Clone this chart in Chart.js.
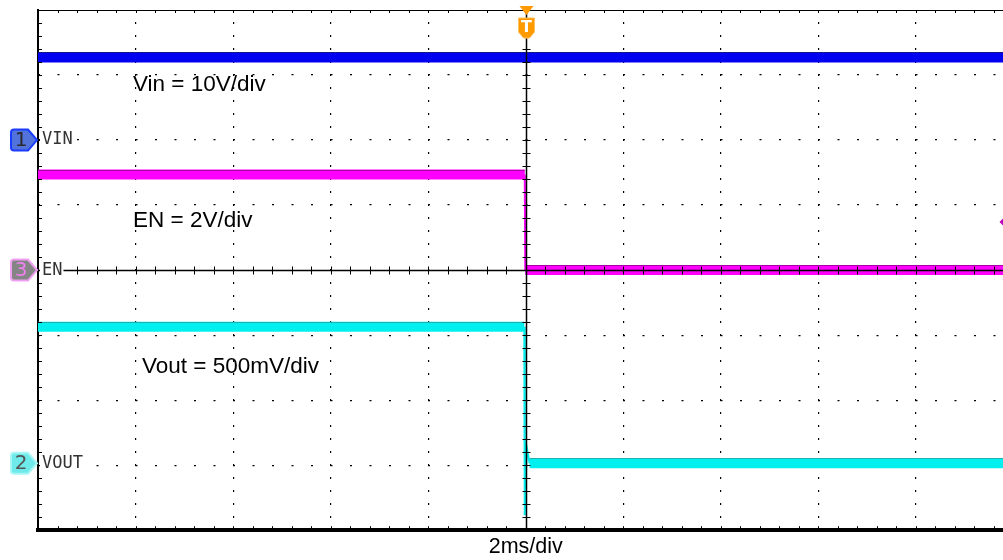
<!DOCTYPE html>
<html>
<head>
<meta charset="utf-8">
<script src="https://cdn.jsdelivr.net/npm/chart.js@4"></script>
<style>
  html, body { margin: 0; padding: 0; background: #fff; overflow: hidden; }
  #wrap { width: 1016px; height: 560px; }
</style>
</head>
<body>
<div id="wrap"><canvas id="scope" width="1016" height="560"></canvas></div>
<script>
// Scope screen: 2 ms/div over 10 divisions, 8 vertical divisions.
const timeRangeMs = [-10, 10];
const divRange    = [-4, 4];

// Channel settings (order: VIN, EN, VOUT)
const channelNames = ['VIN', 'EN', 'VOUT'];
const channelNums  = ['1', '3', '2'];
const voltsPerDiv  = [10, 2, 0.5];
const refDiv       = [2, 0, -2.97];

// CH1 - VIN
const vinTime  = [-10, 10];
const vinVolts = [12.7, 12.7];
// CH3 - EN
const enTime  = [-10, -0.02, -0.01, 10];
const enVolts = [2.94, 2.94, 0, 0];
const enTrigLevel = 1.48;
// CH2 - VOUT
const voutTime  = [-10, -0.03, -0.02, 0.02, 0.08, 10];
const voutVolts = [1.05, 1.05, -0.4, 0.12, 0, 0];

const annotations = ['Vin = 10V/div', 'EN = 2V/div', 'Vout = 500mV/div'];

const COLORS = ['#0000f0', '#ff00ff', '#00f0f0'];
const EDGE_COLORS = ['#14148c', '#a800a8', '#20b0b0'];

Chart.defaults.font.family = '"Liberation Sans", Arial, sans-serif';

function toDiv(times, volts, ch) {
    return times.map((t, i) => ({ x: t, y: refDiv[ch] + volts[i] / voltsPerDiv[ch] }));
}

function traceDataset(data, color) {
    return {
        data,
        borderColor: color,
        borderWidth: 10,
        pointRadius: 0,
        tension: 0,
        fill: false,
        // thick noise band on flat parts, thin line on the edges
        segment: { borderWidth: c => Math.abs(c.p1.x - c.p0.x) > 20 ? 10 : 2 },
    };
}

const hideCenter = (edge) => c =>
    (c.tick.value === 0 || Math.abs(c.tick.value) === edge) ? 'rgba(0,0,0,0)' : '#000';

function line(ctx, x1, y1, x2, y2) {
    ctx.beginPath(); ctx.moveTo(x1, y1); ctx.lineTo(x2, y2); ctx.stroke();
}

function drawMarker(ctx, y, num, fill, stroke, textColor) {
    ctx.save();
    ctx.beginPath();
    ctx.moveTo(14, y - 10.5); ctx.lineTo(28, y - 10.5); ctx.lineTo(37, y);
    ctx.lineTo(28, y + 10.5); ctx.lineTo(14, y + 10.5);
    ctx.quadraticCurveTo(11, y + 10.5, 11, y + 7.5);
    ctx.lineTo(11, y - 7.5);
    ctx.quadraticCurveTo(11, y - 10.5, 14, y - 10.5);
    ctx.closePath();
    ctx.fillStyle = fill; ctx.fill();
    ctx.lineWidth = 2; ctx.strokeStyle = stroke; ctx.stroke();
    ctx.fillStyle = textColor;
    ctx.font = '20px "DejaVu Sans"';
    ctx.textAlign = 'center'; ctx.textBaseline = 'middle';
    ctx.fillText(num, 21, y + 1);
    ctx.restore();
}

// ── graticule centre lines, ticks, channel markers and labels ──────────────
const scopeOverlay = {
    id: 'scopeOverlay',
    afterDatasetsDraw(chart) {
        const { ctx, chartArea: a, scales: { x, y } } = chart;
        const minorX = (x.getPixelForValue(2) - x.getPixelForValue(0)) / 5;
        const minorY = (y.getPixelForValue(0) - y.getPixelForValue(1)) / 5;
        const cx = Math.round(x.getPixelForValue(0)) + 0.5;
        const cy = Math.round(y.getPixelForValue(0)) + 0.5;

        ctx.save();
        // darker upper edge of each noise band
        chart.data.datasets.forEach((ds, i) => {
            const pts = chart.getDatasetMeta(i).data;
            ctx.strokeStyle = EDGE_COLORS[i];
            ctx.lineWidth = 1;
            for (let k = 0; k < pts.length - 1; k++) {
                if (Math.abs(pts[k + 1].x - pts[k].x) > 20) {
                    const py = Math.round(pts[k].y - 5) + 0.5;
                    line(ctx, Math.max(pts[k].x, a.left), py, Math.min(pts[k + 1].x, a.right), py);
                }
            }
        });

        ctx.strokeStyle = '#000';
        ctx.lineWidth = 1;
        line(ctx, a.left, Math.round(a.top) + 0.5, a.right, Math.round(a.top) + 0.5);
        ctx.lineWidth = 1.5;
        line(ctx, cx, a.top, cx, a.bottom);
        line(ctx, a.left, cy, a.right, cy);

        ctx.lineWidth = 1;
        for (let px = a.left + minorX; px < a.right; px += minorX) {
            const p = Math.round(px) + 0.5;
            line(ctx, p, a.top, p, a.top + 3);
            line(ctx, p, a.bottom - 4, p, a.bottom);
            line(ctx, p, cy - 4, p, cy + 4);
        }
        for (let py = a.top + minorY; py < a.bottom; py += minorY) {
            const p = Math.round(py) + 0.5;
            line(ctx, a.left, p, a.left + 4, p);
            line(ctx, cx - 4, p, cx + 4, p);
        }

        // channel labels inside the graticule
        ctx.font = '17px "DejaVu Sans Mono"';
        ctx.textBaseline = 'middle';
        channelNames.forEach((name, ch) => {
            const py = y.getPixelForValue(refDiv[ch]);
            const w = ctx.measureText(name).width;
            ctx.fillStyle = '#fff';
            ctx.fillRect(a.left + 2, py - 10, w + 3, 20);
            ctx.fillStyle = '#333';
            ctx.fillText(name, a.left + 4, py);
        });

        // channel reference markers left of the screen
        const marker = [
            ['#5272dc', '#1a3cff', '#2a2a2a'],
            ['#858585', '#f0a0f0', '#f080f0'],
            ['#6eeaea', '#a8f6f6', '#555'],
        ];
        channelNums.forEach((num, ch) => {
            const m = marker[ch];
            drawMarker(ctx, y.getPixelForValue(refDiv[ch]), num, m[0], m[1], m[2]);
        });

        // trigger position marker
        ctx.fillStyle = '#ff9a00';
        ctx.strokeStyle = '#ffc060';
        ctx.lineWidth = 1;
        ctx.beginPath();
        ctx.moveTo(cx - 7, 6); ctx.lineTo(cx + 7, 6); ctx.lineTo(cx, 15); ctx.closePath();
        ctx.fill();
        ctx.beginPath();
        ctx.moveTo(cx - 8, 18); ctx.lineTo(cx + 8, 18); ctx.lineTo(cx + 8, 32);
        ctx.lineTo(cx + 3, 38); ctx.lineTo(cx - 3, 38); ctx.lineTo(cx - 8, 32);
        ctx.closePath();
        ctx.fill(); ctx.stroke();
        ctx.fillStyle = '#fff';
        ctx.font = 'bold 16px "DejaVu Sans"';
        ctx.textAlign = 'center';
        ctx.fillText('T', cx, 28);

        // EN trigger level marker at the right edge
        const ty = y.getPixelForValue(refDiv[1] + enTrigLevel / voltsPerDiv[1]);
        const tx = a.right - 8;
        ctx.fillStyle = '#c000c0';
        ctx.beginPath();
        ctx.moveTo(tx - 6, ty); ctx.lineTo(tx, ty - 6); ctx.lineTo(tx + 6, ty); ctx.lineTo(tx, ty + 6);
        ctx.closePath(); ctx.fill();

        // scale annotations
        ctx.fillStyle = '#000';
        ctx.font = '22.5px "Liberation Sans", Arial, sans-serif';
        ctx.textAlign = 'left';
        ctx.fillText(annotations[0], 133, 85);
        ctx.fillText(annotations[1], 133, 221);
        ctx.fillText(annotations[2], 142, 367);
        ctx.restore();
    },
};

new Chart(document.getElementById('scope'), {
    type: 'line',
    data: {
        datasets: [
            traceDataset(toDiv(vinTime, vinVolts, 0), COLORS[0]),
            traceDataset(toDiv(enTime, enVolts, 1), COLORS[1]),
            traceDataset(toDiv(voutTime, voutVolts, 2), COLORS[2]),
        ],
    },
    options: {
        responsive: false,
        animation: false,
        events: [],
        layout: { padding: { left: 38, top: 10, right: 2.5, bottom: 0 } },
        plugins: { legend: { display: false }, tooltip: { enabled: false } },
        scales: {
            x: {
                type: 'linear',
                min: timeRangeMs[0], max: timeRangeMs[1],
                ticks: { display: false, stepSize: 2 },
                grid: { color: hideCenter(10), lineWidth: 1.2, drawTicks: false },
                border: { display: true, color: '#000', width: 4, dash: [2, 11], dashOffset: 1 },
                title: {
                    display: true, text: '2ms/div', color: '#000',
                    font: { size: 21.5 }, padding: { top: 4, bottom: 0 },
                },
            },
            y: {
                type: 'linear',
                min: divRange[0], max: divRange[1],
                ticks: { display: false, stepSize: 1 },
                grid: { color: hideCenter(4), lineWidth: 1.2, drawTicks: false },
                border: { display: true, color: '#000', width: 2, dash: [2, 17.5], dashOffset: 1 },
            },
        },
    },
    plugins: [scopeOverlay],
});
</script>
</body>
</html>
